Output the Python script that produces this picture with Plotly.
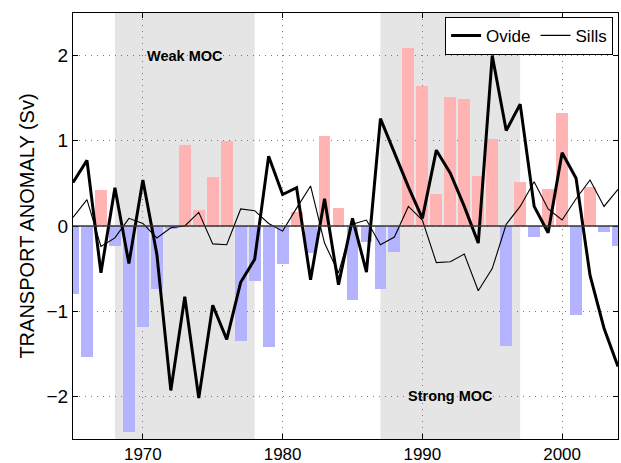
import plotly.graph_objects as go

years = list(range(1965, 2005))

anomaly = [-0.80, -1.54, 0.42, -0.24, -2.42, -1.19, -0.74, -0.04, 0.95, 0.19,
           0.58, 1.00, -1.35, -0.64, -1.42, -0.45, 0.16, -0.32, 1.06, 0.21,
           -0.87, -0.19, -0.74, -0.30, 2.09, 1.64, 0.38, 1.51, 1.49, 0.59,
           1.02, -1.41, 0.52, -0.13, 0.43, 1.33, -1.04, 0.46, -0.07, -0.23]

ovide = [0.51, 0.77, -0.55, 0.45, -0.44, 0.54, -0.33, -1.93, -0.83, -2.02,
         -0.93, -1.33, -0.66, -0.39, 0.82, 0.37, 0.45, -0.63, 0.32, -0.69,
         0.09, -0.54, 1.26, 0.86, 0.46, 0.09, 0.89, 0.62, 0.23, -0.20,
         2.00, 1.12, 1.43, 0.23, -0.08, 0.86, 0.56, -0.58, -1.20, -1.65]

sills = [0.10, 0.31, -0.24, -0.14, 0.09, 0.03, -0.14, -0.02, 0.00, 0.16,
         -0.21, -0.22, 0.20, 0.18, 0.03, -0.06, 0.21, 0.47, -0.20, -0.55,
         0.02, 0.07, -0.22, -0.13, 0.23, 0.07, -0.43, -0.42, -0.33, -0.76,
         -0.50, 0.02, 0.23, 0.52, 0.20, 0.07, 0.32, 0.54, 0.23, 0.43]

periods = [(1968, 1978, "Weak MOC", 1973, 2.0), (1987, 1997, "Strong MOC", 1992, -2.0)]

x_ticks = [1970, 1980, 1990, 2000]
y_ticks = [-2, -1, 0, 1, 2]
y_ticktext = ["\u22122", "\u22121", "0", "1", "2"]

FONT = "Liberation Sans, Arial, Helvetica, sans-serif"
PINK = "#FFB3B3"
BLUE = "#B3B3FF"

fig = go.Figure()

fig.add_trace(go.Bar(
    x=years, y=anomaly, width=0.85,
    marker=dict(color=[PINK if v >= 0 else BLUE for v in anomaly], line=dict(width=0)),
    showlegend=False, hoverinfo="skip",
))
fig.add_trace(go.Scatter(
    x=years, y=ovide, mode="lines", name="Ovide",
    line=dict(color="black", width=3),
))
fig.add_trace(go.Scatter(
    x=years, y=sills, mode="lines", name="Sills",
    line=dict(color="black", width=1.1),
))

shapes = []
annotations = []
for x0, x1, label, lx, ly in periods:
    shapes.append(dict(type="rect", xref="x", yref="paper", x0=x0, x1=x1, y0=0, y1=1,
                       fillcolor="#E5E5E5", line=dict(width=0), layer="between"))
    annotations.append(dict(x=lx, y=ly, xref="x", yref="y", text="<b>" + label + "</b>",
                            showarrow=False, font=dict(family=FONT, size=14.5, color="black")))
shapes.append(dict(type="line", xref="paper", yref="y", x0=0, x1=1, y0=0, y1=0,
                   line=dict(color="#333333", width=1.5), layer="above"))

fig.update_layout(
    width=621, height=463,
    margin=dict(l=73, r=3, t=13, b=24, pad=0),
    paper_bgcolor="white", plot_bgcolor="white",
    font=dict(family=FONT, size=17, color="black"),
    bargap=0,
    shapes=shapes, annotations=annotations,
    legend=dict(orientation="h", x=0.991, xanchor="right", y=0.991, yanchor="top",
                bgcolor="white", bordercolor="black", borderwidth=1,
                font=dict(family=FONT, size=17, color="black"),
                itemwidth=30, tracegroupgap=0),
)

fig.update_xaxes(
    range=[1965, 2004], tickvals=x_ticks, ticks="inside", ticklen=5, tickcolor="black",
    showline=True, linecolor="black", linewidth=1, mirror="ticks",
    showgrid=True, gridcolor="#7a7a7a", gridwidth=1, griddash="1px,5px",
    zeroline=False, tickfont=dict(size=17), automargin=False,
)
fig.update_yaxes(
    range=[-2.5, 2.5], tickvals=y_ticks, ticktext=y_ticktext, ticks="inside", ticklen=5,
    tickcolor="black", showline=True, linecolor="black", linewidth=1, mirror="ticks",
    showgrid=True, gridcolor="#7a7a7a", gridwidth=1, griddash="1px,5px",
    zeroline=False, tickfont=dict(size=19), automargin=False,
    title=dict(text="TRANSPORT ANOMALY (Sv)", font=dict(size=20), standoff=6),
)

fig.write_html("out.html")
